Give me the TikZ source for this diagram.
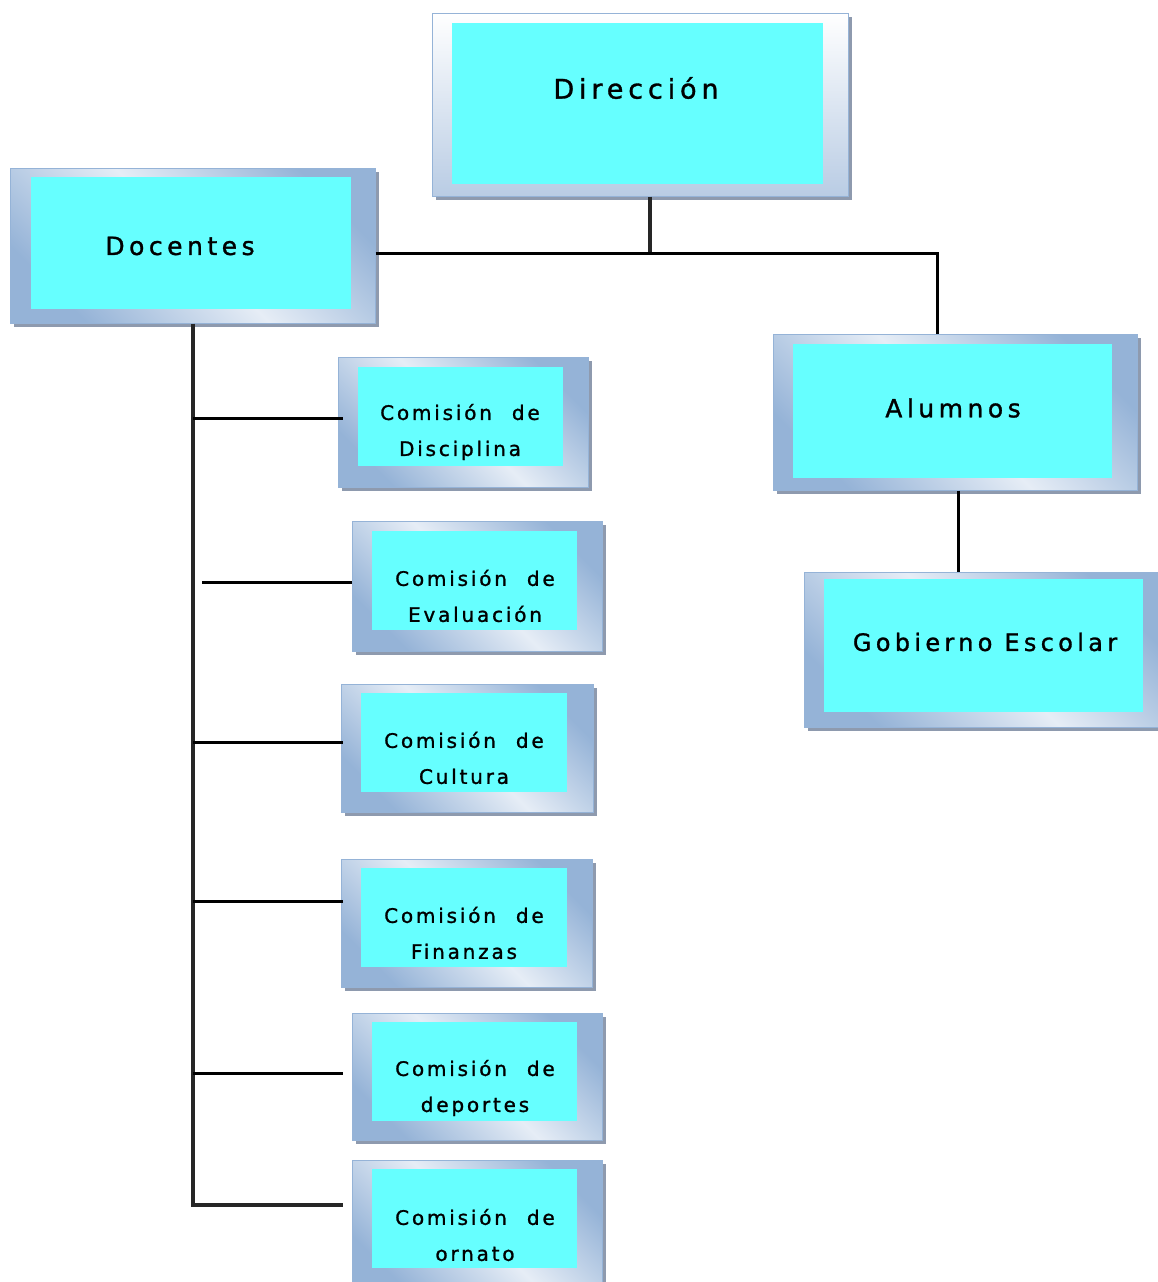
\documentclass[tikz,border=0pt]{standalone}
\usepackage{fontspec}
\newfontfamily\boxfont[LetterSpace=18,FakeBold=1.2]{DejaVu Sans}
\newfontfamily\comfont[LetterSpace=14,FakeBold=1.2]{DejaVu Sans}
\usetikzlibrary{fit,shadows}
\definecolor{cyanfill}{HTML}{66FFFF}
\definecolor{frameblue}{HTML}{95B3D7}
\definecolor{framemid}{HTML}{B9CCE4}
\definecolor{framelight}{HTML}{E6EDF6}
\definecolor{shadowgray}{HTML}{8E9AAE}
\newcommand{\wsp}{\hspace{20pt}}
\tikzset{
  x=1pt, y=-1pt,
  framebox/.style={draw=frameblue, line width=1pt, inner sep=0pt,
    left color=frameblue, right color=frameblue, middle color=framelight, shading angle=135,
    drop shadow={fill=shadowgray, opacity=1, shadow xshift=4pt, shadow yshift=-4pt}},
  topframe/.style={draw=frameblue, line width=1pt, inner sep=0pt,
    top color=white, bottom color=framemid,
    drop shadow={fill=shadowgray, opacity=1, shadow xshift=4pt, shadow yshift=-4pt}},
  cyanbox/.style={fill=cyanfill, draw=none, inner sep=0pt},
  bigtext/.style={font=\fontsize{25}{30}\boxfont, text=black, inner sep=0pt},
  comtext/.style={font=\fontsize{20}{36}\comfont, text=black, align=center, inner sep=0pt},
  conn/.style={draw=black, line width=3pt},
  trunk/.style={draw=black!85, line width=3.2pt}
}
\begin{document}
\begin{tikzpicture}
\useasboundingbox (0,0) rectangle (1158,1282);
\fill[white] (0,0) rectangle (1158,1282);

% Direccion
\node[topframe, fit={(432,13) (848,196)}] (dirO) {};
\node[cyanbox, fit={(452,23) (823,184)}] (dirI) {};
\node[bigtext, font=\fontsize{27}{32}\boxfont] (dirT) at (636,88) {Dirección};

% Docentes
\node[framebox, fit={(10,168) (375,323)}] (docO) {};
\node[cyanbox, fit={(31,177) (351,309)}] (docI) {};
\node[bigtext] (docT) at (180,246) {Docentes};

% Alumnos
\node[framebox, fit={(773,334) (1137,490)}] (aluO) {};
\node[cyanbox, fit={(793,344) (1112,478)}] (aluI) {};
\node[bigtext] (aluT) at (953,408) {Alumnos};

% Gobierno Escolar
\node[framebox, fit={(804,572) (1162,727)}] (gobO) {};
\node[cyanbox, fit={(824,579) (1143,712)}] (gobI) {};
\node[bigtext, font=\fontsize{24}{28}\boxfont] (gobT) at (985,642) {Gobierno Escolar};

% Comisiones
\node[framebox, fit={(338,357) (588,487)}] (disO) {};
\node[cyanbox, fit={(358,367) (563,466)}] (disI) {};
\node[comtext] (disT) at (460,432) {Comisión\wsp de\\Disciplina};

\node[framebox, fit={(352,521) (602,651)}] (evaO) {};
\node[cyanbox, fit={(372,531) (577,630)}] (evaI) {};
\node[comtext] (evaT) at (475,596) {Comisión\wsp de\\Evaluación};

\node[framebox, fit={(341,684) (593,812)}] (culO) {};
\node[cyanbox, fit={(361,693) (567,792)}] (culI) {};
\node[comtext] (culT) at (464,758) {Comisión\wsp de\\Cultura};

\node[framebox, fit={(341,859) (592,987)}] (finO) {};
\node[cyanbox, fit={(361,868) (567,967)}] (finI) {};
\node[comtext] (finT) at (464,933) {Comisión\wsp de\\Finanzas};

\node[framebox, fit={(352,1013) (602,1140)}] (depO) {};
\node[cyanbox, fit={(372,1022) (577,1121)}] (depI) {};
\node[comtext] (depT) at (475,1088) {Comisión\wsp de\\deportes};

\node[framebox, fit={(352,1160) (602,1292)}] (ornO) {};
\node[cyanbox, fit={(372,1169) (577,1268)}] (ornI) {};
\node[comtext] (ornT) at (475,1235) {Comisión\wsp de\\ornato};

% Connector coordinates
\coordinate (j1) at (650,253);
\coordinate (j2) at (937,253);
\coordinate (a1) at (958,0);
\coordinate (t) at (193,0);
\coordinate (b1) at (343,418);
\coordinate (b2) at (352,582);
\coordinate (b3) at (343,742);
\coordinate (b4) at (343,901);
\coordinate (b5) at (343,1073);
\coordinate (b6) at (343,1205);
\coordinate (e2) at (202,582);

% Top connectors
\draw[trunk] (dirO.south -| j1) -- (j1);
\draw[conn] (docO.east |- j1) -- (j2) -- (j2 |- aluO.north);
\draw[conn] (aluO.south -| a1) -- (gobO.north -| a1);

% Docentes trunk and branches
\draw[trunk] (docO.south -| t) -- (t |- b6) -- (b6);
\draw[conn] (t |- b1) -- (b1);
\draw[conn] (e2) -- (b2);
\draw[conn] (t |- b3) -- (b3);
\draw[conn] (t |- b4) -- (b4);
\draw[conn] (t |- b5) -- (b5);
\end{tikzpicture}
\end{document}
